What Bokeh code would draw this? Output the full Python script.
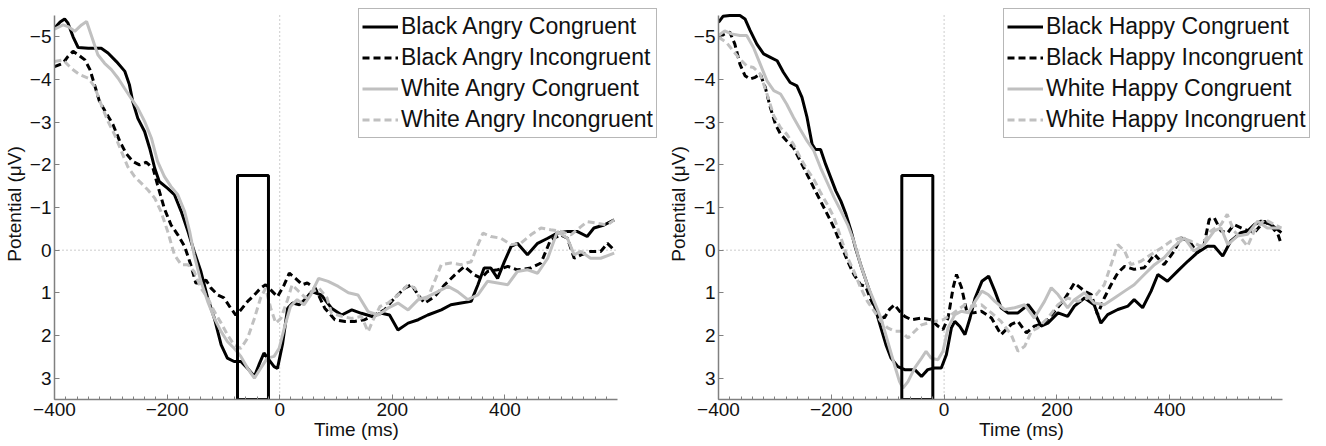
from bokeh.plotting import figure
from bokeh.layouts import row
from bokeh.models import Range1d, FixedTicker, Legend, LegendItem
from bokeh.embed import file_html
from bokeh.resources import INLINE

# ---------------- data: Angry panel ----------------
bac_t = [-400,-390,-382,-376,-367,-358,-340,-317,-305,-290,-275,-267,-261,-252,-240,-231,-222,-214,-199,-187,-175,-163,-152,-140,-128,-116,-104,-93,-81,-69,-57,-45,-37,-28,-19,-10,-4,5,14,23,35,45,57,74,92,110,128,145,163,181,195,210,228,246,263,287,304,322,340,352,363,375,387,399,411,422,440,458,476,493,511,528,546,558,576,594]
bac_v = [-5.2,-5.35,-5.42,-5.32,-5.0,-4.75,-4.73,-4.73,-4.62,-4.42,-4.19,-3.88,-3.48,-3.09,-2.78,-2.39,-1.92,-1.61,-1.45,-1.3,-0.91,-0.44,0.03,0.5,1.12,1.6,2.22,2.53,2.61,2.61,2.77,2.96,2.69,2.41,2.57,2.73,2.77,2.2,1.36,1.24,1.28,1.15,0.97,1.05,1.36,1.52,1.4,1.48,1.55,1.48,1.52,1.87,1.71,1.63,1.52,1.4,1.28,1.24,1.2,0.81,0.42,0.42,0.66,0.27,-0.09,-0.16,0.11,-0.16,-0.28,-0.4,-0.44,-0.44,-0.32,-0.52,-0.59,-0.71]

bai_t = [-400,-385,-376,-367,-358,-346,-337,-329,-320,-308,-296,-284,-273,-261,-249,-237,-225,-217,-205,-193,-181,-169,-158,-149,-140,-131,-122,-110,-99,-87,-78,-69,-57,-45,-34,-25,-16,-4,8,17,28,40,49,63,80,98,116,133,151,169,186,204,222,234,246,257,275,293,311,328,346,358,369,387,405,422,446,464,481,499,511,523,535,552,570,582,594]
bai_v = [-4.3,-4.38,-4.54,-4.66,-4.58,-4.46,-4.23,-3.88,-3.48,-3.21,-2.94,-2.55,-2.27,-2.08,-2.0,-2.06,-1.92,-1.53,-0.98,-0.59,-0.36,-0.09,0.34,0.77,0.77,0.7,0.89,1.05,1.12,1.36,1.52,1.4,1.2,1.05,0.89,0.81,0.93,1.09,0.81,0.54,0.66,0.81,0.77,0.89,1.36,1.63,1.67,1.67,1.63,1.52,1.4,1.12,0.89,0.81,1.05,1.24,1.09,0.81,0.58,0.38,0.58,0.66,0.5,0.46,0.38,0.46,0.42,0.3,-0.24,-0.36,-0.28,0.19,0.11,0.03,0.03,-0.16,0.0]

wac_t = [-400,-385,-376,-364,-352,-343,-335,-323,-311,-299,-287,-276,-264,-252,-240,-228,-217,-205,-193,-181,-169,-160,-152,-140,-128,-116,-104,-93,-81,-69,-57,-45,-34,-22,-10,-1,8,19,31,43,55,69,86,104,122,139,157,175,192,210,228,246,263,281,299,316,334,352,369,387,405,422,440,458,476,493,511,523,535,552,570,594]
wac_v = [-5.18,-5.28,-5.24,-5.13,-5.28,-5.36,-5.05,-4.58,-4.38,-4.23,-4.03,-3.8,-3.56,-3.33,-3.02,-2.63,-2.08,-1.73,-1.49,-1.3,-0.91,-0.44,0.11,0.73,1.2,1.6,1.91,2.14,2.3,2.49,2.77,3.0,2.77,2.53,2.49,2.3,1.83,1.32,1.16,1.28,1.05,0.66,0.73,0.85,1.0,1.05,1.44,1.52,1.36,1.24,1.4,1.16,1.09,0.97,0.85,0.97,1.16,1.05,0.73,0.77,0.81,0.5,0.46,0.54,0.19,-0.44,-0.28,0.11,0.03,0.19,0.19,0.07]

wai_t = [-400,-385,-376,-367,-355,-340,-329,-317,-305,-293,-281,-270,-258,-246,-234,-222,-211,-199,-187,-175,-163,-152,-140,-128,-116,-104,-93,-81,-69,-57,-45,-34,-25,-16,-7,2,14,22,34,46,58,70,84,92,110,128,145,157,166,178,192,210,228,240,251,263,275,287,304,322,340,352,361,375,393,411,428,446,464,481,499,517,535,546,564,582,594]
wai_v = [-4.42,-4.46,-4.34,-4.23,-4.11,-4.03,-3.84,-3.41,-3.02,-2.7,-2.31,-1.96,-1.73,-1.57,-1.41,-1.22,-0.91,-0.44,0.11,0.34,0.34,0.5,0.89,1.12,1.44,1.71,1.98,2.22,2.3,2.06,1.6,1.12,0.89,1.36,1.71,1.6,1.16,0.81,0.97,1.12,0.97,0.89,1.12,1.48,1.55,1.6,1.55,1.91,1.63,1.32,1.24,1.05,0.81,0.89,1.2,1.12,0.73,0.34,0.3,0.34,0.27,-0.13,-0.4,-0.32,-0.28,-0.13,-0.16,-0.36,-0.52,-0.48,-0.44,-0.36,-0.55,-0.67,-0.63,-0.59,-0.71]

# ---------------- data: Happy panel ----------------
bhc_t = [-400,-392,-380,-362,-353,-344,-332,-320,-308,-296,-285,-273,-261,-252,-243,-234,-228,-219,-210,-201,-192,-183,-174,-165,-157,-148,-136,-124,-112,-103,-94,-82,-70,-52,-40,-29,-17,-5,4,13,19,28,37,46,55,67,79,90,101,113,131,149,160,172,184,202,219,231,249,266,278,290,308,326,337,352,367,379,396,414,432,449,467,479,494,508,526,538,550,562,580,598]
bhc_v = [-5.34,-5.48,-5.5,-5.5,-5.42,-5.15,-4.83,-4.6,-4.52,-4.44,-4.17,-3.93,-3.85,-3.58,-3.11,-2.48,-2.36,-2.36,-2.01,-1.7,-1.39,-1.15,-0.84,-0.45,-0.05,0.34,0.81,1.28,1.82,2.22,2.53,2.73,2.8,2.8,2.96,2.8,2.76,2.76,2.45,1.82,1.67,1.79,1.98,1.59,1.12,0.73,0.61,0.96,1.35,1.47,1.47,1.28,1.47,1.78,1.71,1.47,1.55,1.31,1.12,1.28,1.71,1.51,1.39,1.31,1.16,1.35,0.96,0.57,0.73,0.49,0.26,0.06,-0.09,-0.09,0.14,-0.21,-0.41,-0.45,-0.6,-0.68,-0.6,-0.41]

bhi_t = [-400,-389,-380,-371,-362,-353,-344,-335,-326,-317,-308,-299,-290,-279,-267,-255,-243,-231,-219,-207,-195,-183,-171,-160,-148,-139,-130,-118,-106,-97,-88,-79,-70,-58,-40,-23,-11,-2,7,16,22,31,40,52,66,84,101,119,131,146,160,178,196,213,231,249,261,272,284,296,308,320,337,355,373,390,408,420,435,449,461,470,479,491,503,514,532,550,568,580,592,598]
bhi_v = [-4.99,-5.07,-5.11,-4.83,-4.36,-4.09,-4.01,-4.05,-4.13,-3.81,-3.34,-2.95,-2.72,-2.56,-2.4,-2.09,-1.78,-1.46,-1.15,-0.84,-0.52,-0.13,0.26,0.57,0.81,0.85,1.16,1.47,1.59,1.39,1.28,1.43,1.55,1.63,1.59,1.63,1.78,1.86,1.59,0.88,0.57,0.88,1.43,1.47,1.43,1.59,1.98,1.74,1.67,1.94,1.78,1.71,1.43,1.16,0.77,0.96,1.04,1.51,1.12,0.81,0.53,0.38,0.45,0.41,0.1,0.34,0.02,-0.29,-0.21,0.06,-0.13,-0.72,-0.76,-0.45,-0.41,-0.6,-0.49,-0.41,-0.68,-0.56,-0.37,-0.13]

whc_t = [-400,-389,-377,-362,-350,-338,-326,-314,-302,-290,-279,-267,-255,-243,-231,-219,-207,-195,-183,-171,-160,-148,-136,-124,-112,-100,-88,-79,-73,-64,-52,-40,-32,-23,-11,-2,7,19,31,43,55,67,78,90,107,125,143,160,178,190,202,219,231,249,266,284,302,320,337,355,373,390,408,426,443,461,479,491,503,520,538,556,573,598]
whc_v = [-5.03,-5.14,-5.07,-5.03,-5.03,-4.75,-4.36,-3.97,-3.74,-3.66,-3.42,-3.11,-2.83,-2.56,-2.33,-1.93,-1.58,-1.23,-0.92,-0.6,-0.21,0.34,0.81,1.2,1.59,2.14,2.69,3.08,3.23,3.08,2.76,2.53,2.37,2.53,2.57,2.37,1.82,1.51,1.43,1.47,1.2,0.96,1.04,1.2,1.39,1.35,1.28,1.59,1.2,0.88,1.04,1.35,1.16,1.0,1.24,1.28,1.12,0.96,0.81,0.57,0.34,0.18,-0.09,-0.29,0.02,-0.13,-0.45,-0.52,-0.13,-0.33,-0.37,-0.68,-0.52,-0.52]

whi_t = [-400,-386,-374,-362,-350,-338,-326,-314,-302,-290,-279,-267,-255,-243,-231,-219,-207,-195,-183,-171,-160,-148,-136,-124,-112,-100,-88,-76,-64,-52,-40,-29,-17,-2,13,25,37,49,66,84,101,119,131,143,155,166,184,202,219,237,255,270,284,296,308,320,331,349,367,385,402,420,438,455,473,491,502,514,526,538,550,568,586,598]
whi_v = [-4.99,-4.87,-4.67,-4.48,-4.32,-4.28,-4.13,-3.66,-3.15,-2.87,-2.72,-2.48,-2.17,-1.89,-1.66,-1.35,-1.07,-0.76,-0.29,0.18,0.49,0.88,1.2,1.43,1.67,1.82,1.9,1.9,2.06,1.9,1.75,1.71,1.67,1.63,1.51,1.39,1.28,1.32,1.28,1.47,1.67,1.98,2.37,2.25,1.9,1.82,1.59,1.28,1.12,1.2,1.12,1.04,0.81,0.34,-0.13,0.02,0.34,0.26,0.1,-0.05,-0.21,-0.29,-0.21,-0.09,-0.45,-0.6,-0.84,-0.45,-0.29,-0.09,-0.45,-0.72,-0.6,-0.52]

# analysis window box (ms, µV)
box_x = [-75, -20]
box_y = [-1.75, 3.5]

# axis limits and ticks
x_lim = [-400, 600]
y_lim = [-5.5, 3.5]
x_ticks = [-400, -200, 0, 200, 400]
y_ticks = [-5, -4, -3, -2, -1, 0, 1, 2, 3]

angry_labels = ["Black Angry Congruent", "Black Angry Incongruent",
                "White Angry Congruent", "White Angry Incongruent"]
happy_labels = ["Black Happy Congruent", "Black Happy Incongruent",
                "White Happy Congruent", "White Happy Incongruent"]

FONT = "Liberation Sans"
GRAY = "#c0c0c0"
AXC = "#808080"

AXIS_W = 564      # pixel length of the drawn x axis
AXIS_H = 384      # pixel length of the drawn y axis
TOP = 8           # frame top (room above axis for the legend)
BOTTOM = 47


def make_panel(series, labels, width, bl, br, leg_loc):
    frame_w = width - bl - br
    x_end = x_lim[0] + frame_w * (x_lim[1] - x_lim[0]) / AXIS_W
    frame_h = 446 - TOP - BOTTOM
    y_top = y_lim[1] - frame_h * (y_lim[1] - y_lim[0]) / AXIS_H
    p = figure(width=width, height=446, output_backend="svg", toolbar_location=None,
               x_range=Range1d(x_lim[0], x_end), y_range=Range1d(y_lim[1], y_top),
               min_border_left=bl, min_border_right=br,
               min_border_top=TOP, min_border_bottom=BOTTOM)
    p.outline_line_color = None
    p.grid.visible = False
    p.background_fill_color = "white"
    p.border_fill_color = "white"

    # dotted zero lines limited to the axes box
    p.segment(x0=[x_lim[0]], x1=[x_lim[1]], y0=[0], y1=[0],
              line_color="#999999", line_dash="1 3", line_width=1)
    p.segment(x0=[0], x1=[0], y0=[y_lim[0]], y1=[y_lim[1]],
              line_color="#999999", line_dash="1 3", line_width=1)

    styles = [("black", "solid"), ("black", "7 4"), (GRAY, "solid"), (GRAY, "7 4")]
    items = []
    for (t, v), (col, dash), lab in zip(series, styles, labels):
        r = p.line(t, v, line_color=col, line_dash=dash, line_width=3)
        items.append(LegendItem(label=lab, renderers=[r]))

    p.quad(left=[box_x[0]], right=[box_x[1]], top=[box_y[0]], bottom=[box_y[1]],
           fill_color=None, line_color="black", line_width=3)

    leg = Legend(items=items, location=leg_loc, label_text_font=FONT,
                 label_text_font_size="23px", label_text_color="#111111",
                 glyph_width=36, glyph_height=29, label_height=29, spacing=2,
                 padding=3, margin=0, label_standoff=3,
                 border_line_color="#707070", border_line_width=1,
                 background_fill_color="white", background_fill_alpha=1.0)
    p.add_layout(leg)

    p.xaxis.ticker = FixedTicker(ticks=x_ticks, minor_ticks=list(range(-400, 600, 20)))
    p.yaxis.ticker = FixedTicker(ticks=y_ticks, minor_ticks=[])
    p.xaxis.bounds = (x_lim[0], x_lim[1])
    p.yaxis.bounds = (y_lim[0], y_lim[1])
    p.xaxis.axis_label = "Time (ms)"
    p.yaxis.axis_label = "Potential (μV)"
    for ax in (p.xaxis[0], p.yaxis[0]):
        ax.axis_line_color = AXC
        ax.axis_line_width = 1.5
        ax.major_tick_line_color = AXC
        ax.minor_tick_line_color = AXC
        ax.major_tick_in = 5
        ax.major_tick_out = 0
        ax.minor_tick_in = 3
        ax.minor_tick_out = 0
        ax.major_label_text_font = FONT
        ax.major_label_text_font_size = "19px"
        ax.major_label_text_color = "#111111"
        ax.axis_label_text_font = FONT
        ax.axis_label_text_font_size = "19px"
        ax.axis_label_text_font_style = "normal"
        ax.axis_label_text_color = "#111111"
        ax.major_label_standoff = 3
        ax.axis_label_standoff = 2
    p.xaxis.axis_label_standoff = 0
    return p


p1 = make_panel([(bac_t, bac_v), (bai_t, bai_v), (wac_t, wac_v), (wai_t, wai_v)],
                angry_labels, 660, 53, 2, (304, 261))
p2 = make_panel([(bhc_t, bhc_v), (bhi_t, bhi_v), (whc_t, whc_v), (whi_t, whi_v)],
                happy_labels, 666, 58, 2, (285, 261))

layout = row(p1, p2)
open("out.html", "w").write(file_html(layout, INLINE))
